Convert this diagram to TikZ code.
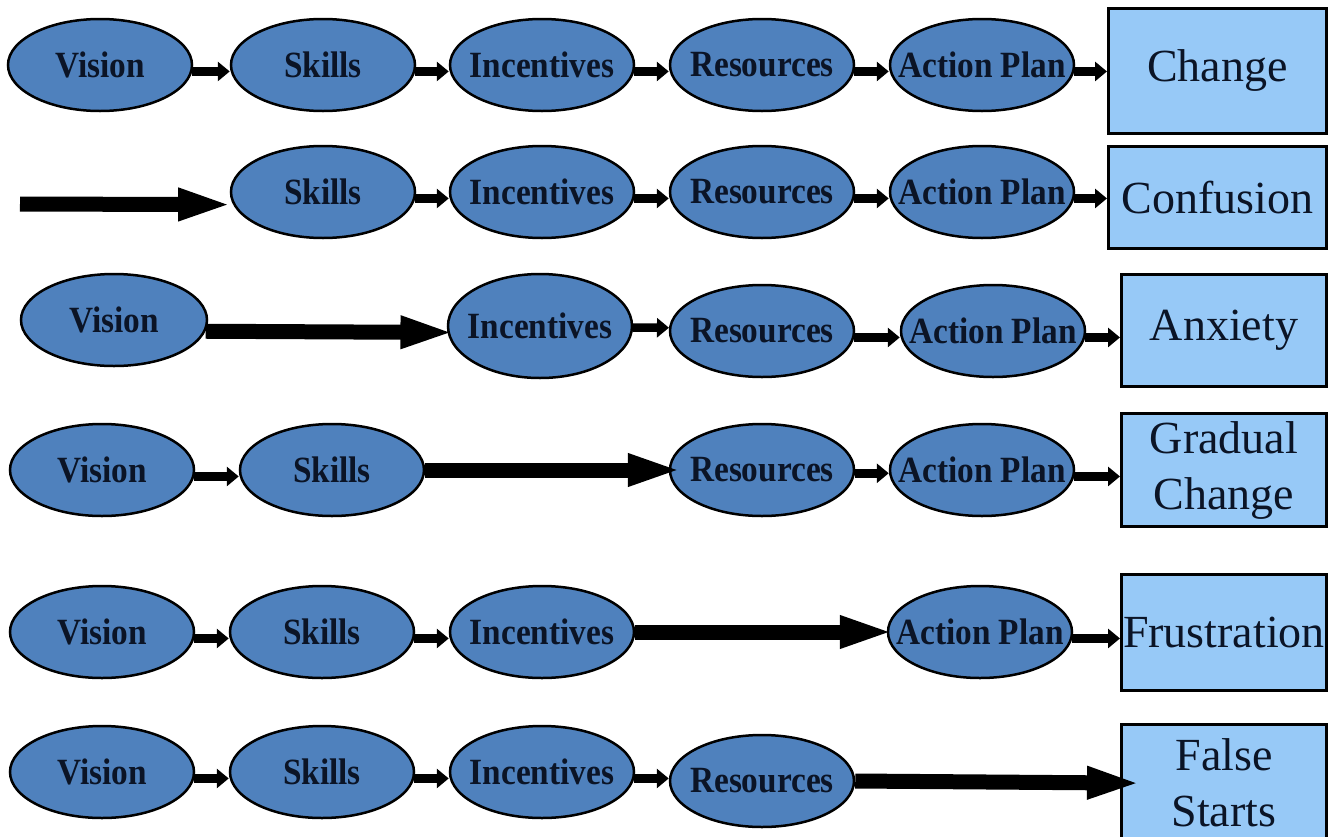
\documentclass[tikz,border=0pt]{standalone}
\usepackage{fontspec}
\setmainfont{Liberation Serif}
\newfontfamily\stagefont{Liberation Serif}[FakeStretch=0.9]
\usetikzlibrary{shapes.geometric,arrows.meta}

\definecolor{stagefill}{HTML}{4F81BD}
\definecolor{outcomefill}{HTML}{97C9F7}
\definecolor{ink}{HTML}{0B1426}

\tikzset{
  % negative inner sep keeps the ellipse at its minimum size whatever the label
  stage/.style={ellipse, draw=black, line width=2.5pt, fill=stagefill,
    minimum width=184pt, minimum height=92pt, inner xsep=-50pt, inner ysep=-25pt,
    text=ink, font=\stagefont\fontsize{37}{40}\selectfont\bfseries},
  outcome/.style={rectangle, draw=black, line width=3pt, fill=outcomefill,
    inner sep=0pt, align=center, text=ink,
    font=\fontsize{46}{56}\selectfont},
  link/.style={line width=8.5pt, -{Triangle[length=12pt,width=19pt]}},
  gap/.style={line width=15pt, -{Triangle[length=55pt,width=29pt]}},
}

\begin{document}
\begin{tikzpicture}[x=1pt,y=-1pt]
\useasboundingbox (0,0) rectangle (1334,836);

% Row 1: all five elements lead to change
\node[stage] (v1) at (100,65) {Vision};
\node[stage] (s1) at (323,65) {Skills};
\node[stage] (i1) at (542,65) {Incentives};
\node[stage] (r1) at (762,65) {Resources};
\node[stage] (a1) at (982,65) {Action Plan};
\node[outcome, minimum width=218pt, minimum height=125pt] (o1) at (1217.5,71) {Change};
\draw[link] (v1.-4) -- (v1.-4 -| s1.west);
\draw[link] (s1.-4) -- (s1.-4 -| i1.west);
\draw[link] (i1.-4) -- (i1.-4 -| r1.west);
\draw[link] (r1.-4) -- (r1.-4 -| a1.west);
\draw[link] (a1.-4) -- (a1.-4 -| o1.west);

% Row 2: no vision
\coordinate (start2) at (20,204);
\node[stage] (s2) at (323,192) {Skills};
\node[stage] (i2) at (542,192) {Incentives};
\node[stage] (r2) at (762,192) {Resources};
\node[stage] (a2) at (982,192) {Action Plan};
\node[outcome, minimum width=218pt, minimum height=102pt] (o2) at (1217.5,197.5) {Confusion};
\draw[gap] (start2) -- (s2.188);
\draw[link] (s2.-4) -- (s2.-4 -| i2.west);
\draw[link] (i2.-4) -- (i2.-4 -| r2.west);
\draw[link] (r2.-4) -- (r2.-4 -| a2.west);
\draw[link] (a2.-4) -- (a2.-4 -| o2.west);

% Row 3: no skills
\node[stage, minimum width=186pt] (v3) at (114,320) {Vision};
\node[stage, minimum height=104pt] (i3) at (540,326) {Incentives};
\node[stage] (r3) at (762,331) {Resources};
\node[stage] (a3) at (993,331) {Action Plan};
\node[outcome, minimum width=205pt, minimum height=112pt] (o3) at (1224,330.5) {Anxiety};
\draw[gap, shorten >=-8pt] (v3.-7.6) -- (i3.184);
\draw[link] (i3.-1) -- (r3.178);
\draw[link] (r3.-4) -- (r3.-4 -| a3.west);
\draw[link] (a3.-4) -- (a3.-4 -| o3.west);

% Row 4: no incentives
\node[stage] (v4) at (102,470) {Vision};
\node[stage] (s4) at (332,470) {Skills};
\node[stage] (r4) at (762,470) {Resources};
\node[stage] (a4) at (982,470) {Action Plan};
\node[outcome, minimum width=205pt, minimum height=113pt] (o4) at (1224,470) {Gradual\\Change};
\draw[link] (v4.-4) -- (v4.-4 -| s4.west);
\draw[gap, shorten >=-14pt] (s4.east) -- (r4.west);
\draw[link] (r4.-2) -- (r4.-2 -| a4.west);
\draw[link] (a4.-4) -- (a4.-4 -| o4.west);

% Row 5: no resources
\node[stage] (v5) at (102,632) {Vision};
\node[stage] (s5) at (322,632) {Skills};
\node[stage] (i5) at (542,632) {Incentives};
\node[stage] (a5) at (980,632) {Action Plan};
\node[outcome, minimum width=205pt, minimum height=116pt] (o5) at (1224,632.5) {Frustration};
\draw[link] (v5.-4) -- (v5.-4 -| s5.west);
\draw[link] (s5.-4) -- (s5.-4 -| i5.west);
\draw[gap, shorten >=-8pt] (i5.east) -- (a5.west);
\draw[link] (a5.-4) -- (a5.-4 -| o5.west);

% Row 6: no action plan
\node[stage] (v6) at (102,772) {Vision};
\node[stage] (s6) at (322,772) {Skills};
\node[stage] (i6) at (542,772) {Incentives};
\node[stage] (r6) at (762,781) {Resources};
\node[outcome, minimum width=205pt, minimum height=117pt] (o6) at (1224,783) {False\\Starts};
\draw[link] (v6.-4) -- (v6.-4 -| s6.west);
\draw[link] (s6.-4) -- (s6.-4 -| i6.west);
\draw[link] (i6.-4) -- (i6.-4 -| r6.west);
\draw[gap, shorten >=-22pt] (r6.east) -- (o6.west);
\end{tikzpicture}
\end{document}
